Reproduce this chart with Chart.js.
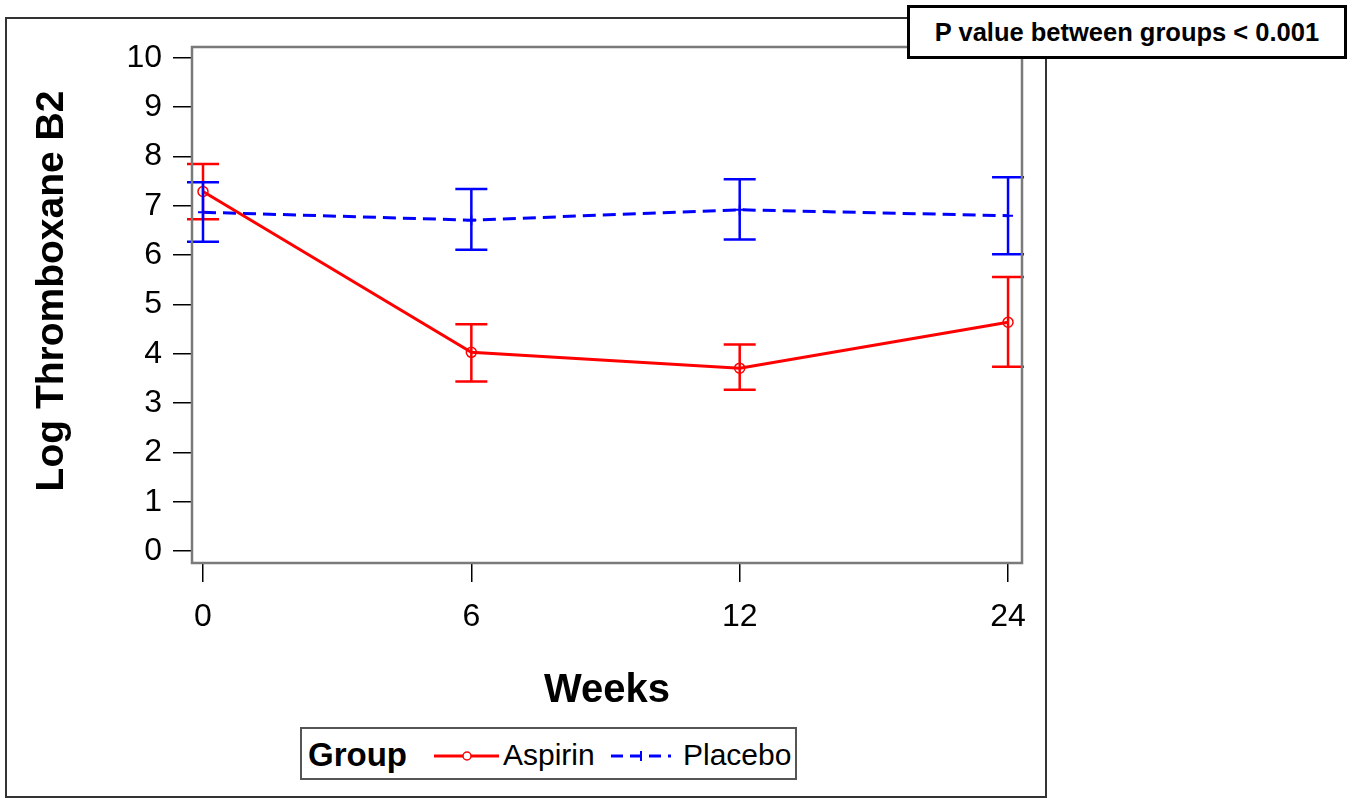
<!DOCTYPE html>
<html>
<head>
<meta charset="utf-8">
<script src="https://cdn.jsdelivr.net/npm/chart.js@4"></script>
<style>
  body { margin: 0; background: #fff; font-family: "Liberation Sans", Arial, sans-serif; }
  #frame { position: absolute; left: 5px; top: 17px; width: 1042px; height: 781px; box-sizing: border-box; border: 2px solid #333; }
  #mycanvas { position: absolute; left: 0; top: 0; }
  #pval { position: absolute; left: 907px; top: 5px; width: 440px; height: 54px; box-sizing: border-box; border: 3px solid #000; background: #fff;
          font-weight: bold; font-size: 25.5px; line-height: 48px; text-align: center; color: #000; }
  #legend { position: absolute; left: 300px; top: 727px; width: 497px; height: 53px; box-sizing: border-box; border: 2px solid #555; background: #fff; }
  #legend span { position: absolute; top: 6px; line-height: 40px; color: #000; }
  #legend svg { position: absolute; top: 0; }
</style>
</head>
<body>
<div id="frame"></div>
<canvas id="mycanvas" width="1355" height="798"></canvas>
<div id="legend">
  <span style="left:6px;font-weight:bold;font-size:33px;">Group</span>
  <svg style="left:130px" width="70" height="50"><line x1="2" y1="27" x2="67" y2="27" stroke="#ff0000" stroke-width="3"/><circle cx="35" cy="27" r="4" fill="#fff" stroke="#ff0000" stroke-width="1.5"/></svg>
  <span style="left:201px;font-size:30px;">Aspirin</span>
  <svg style="left:307px" width="64" height="50"><line x1="2" y1="27" x2="62" y2="27" stroke="#0000ff" stroke-width="3" stroke-dasharray="12,7"/><line x1="32" y1="22" x2="32" y2="32" stroke="#0000ff" stroke-width="2"/></svg>
  <span style="left:381px;font-size:30px;">Placebo</span>
</div>
<div id="pval">P value between groups &lt; 0.001</div>
<script>
const weeks = ['0', '6', '12', '24'];
const aspirinMean = [7.29, 4.03, 3.71, 4.64];
const aspirinLow  = [6.73, 3.44, 3.27, 3.74];
const aspirinHigh = [7.85, 4.60, 4.19, 5.56];
const placeboMean = [6.87, 6.71, 6.92, 6.80];
const placeboLow  = [6.27, 6.11, 6.32, 6.02];
const placeboHigh = [7.48, 7.34, 7.54, 7.58];
const yTicks = [0, 1, 2, 3, 4, 5, 6, 7, 8, 9, 10];

const FONT = '"Liberation Sans", Arial, sans-serif';

// error bars + plot frame + axis titles
const extras = {
  id: 'extras',
  afterDatasetsDraw(chart) {
    const ctx = chart.ctx;
    const xs = chart.scales.x, ys = chart.scales.y;
    chart.data.datasets.forEach(function (ds) {
      ctx.save();
      ctx.strokeStyle = ds.borderColor;
      ctx.lineWidth = 2.5;
      ds.data.forEach(function (p, i) {
        const x = xs.getPixelForValue(p.x);
        const yl = ys.getPixelForValue(ds.low[i]);
        const yh = ys.getPixelForValue(ds.high[i]);
        ctx.beginPath();
        ctx.moveTo(x, yl); ctx.lineTo(x, yh);
        ctx.moveTo(x - 16, yl); ctx.lineTo(x + 16, yl);
        ctx.moveTo(x - 16, yh); ctx.lineTo(x + 16, yh);
        ctx.stroke();
      });
      ctx.restore();
    });
  },
  afterDraw(chart) {
    const ctx = chart.ctx;
    const a = chart.chartArea;
    ctx.save();
    ctx.strokeStyle = '#7a7a7a';
    ctx.lineWidth = 2.5;
    ctx.strokeRect(a.left, a.top, a.right - a.left, a.bottom - a.top);
    ctx.fillStyle = '#000';
    ctx.font = 'bold 40px ' + FONT;
    ctx.textAlign = 'center';
    ctx.textBaseline = 'middle';
    ctx.fillText('Weeks', (a.left + a.right) / 2, 691);
    ctx.translate(52, 291);
    ctx.rotate(-Math.PI / 2);
    ctx.font = 'bold 39px ' + FONT;
    ctx.fillText('Log Thromboxane B2', 0, 0);
    ctx.restore();
  }
};

const config = {
  type: 'line',
  data: {
    datasets: [
      {
        label: 'Aspirin',
        data: aspirinMean.map((v, i) => ({ x: i, y: v })),
        low: aspirinLow,
        high: aspirinHigh,
        borderColor: '#ff0000',
        backgroundColor: 'rgba(0,0,0,0)',
        borderWidth: 3,
        pointStyle: 'circle',
        pointRadius: 5,
        pointBorderWidth: 1.5,
        tension: 0
      },
      {
        label: 'Placebo',
        data: placeboMean.map((v, i) => ({ x: i, y: v })),
        low: placeboLow,
        high: placeboHigh,
        borderColor: '#0000ff',
        backgroundColor: 'rgba(0,0,0,0)',
        borderWidth: 3,
        borderDash: [13, 7],
        pointStyle: 'cross',
        pointRadius: 5,
        pointBorderWidth: 2,
        tension: 0
      }
    ]
  },
  plugins: [extras],
  options: {
    responsive: false,
    animation: false,
    layout: { padding: { left: 0, top: 47, right: 333, bottom: 0 } },
    plugins: {
      legend: { display: false },
      tooltip: { enabled: false }
    },
    scales: {
      x: {
        type: 'linear',
        min: -0.041,
        max: 3.052,
        afterBuildTicks: function (scale) {
          scale.ticks = weeks.map((w, i) => ({ value: i }));
        },
        afterFit: function (scale) { scale.height = 235; },
        ticks: {
          callback: function (v) { return weeks[v]; },
          color: '#000',
          font: { family: FONT, size: 32 },
          padding: 16,
          maxRotation: 0
        },
        grid: { drawOnChartArea: false, drawTicks: true, tickLength: 19, color: '#000', lineWidth: 1.5 },
        border: { display: false }
      },
      y: {
        min: -0.24,
        max: 10.22,
        afterBuildTicks: function (scale) {
          scale.ticks = yTicks.map(v => ({ value: v }));
        },
        afterFit: function (scale) { scale.width = 192; },
        ticks: {
          color: '#000',
          font: { family: FONT, size: 32 },
          padding: 11
        },
        grid: { drawOnChartArea: false, drawTicks: true, tickLength: 19, color: '#000', lineWidth: 1.5 },
        border: { display: false }
      }
    }
  }
};

var myChart = new Chart(document.getElementById('mycanvas'), config);
</script>
</body>
</html>
